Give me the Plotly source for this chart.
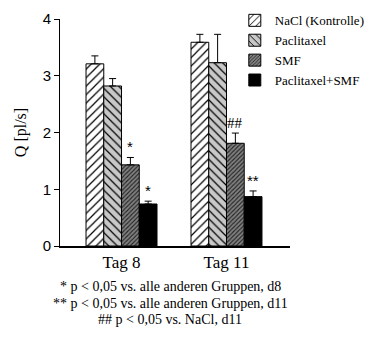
import plotly.graph_objects as go

categories = ["Tag 8", "Tag 11"]
series_names = ["NaCl (Kontrolle)", "Paclitaxel", "SMF", "Paclitaxel+SMF"]
means = {
    "NaCl (Kontrolle)": [3.21, 3.59],
    "Paclitaxel": [2.82, 3.23],
    "SMF": [1.43, 1.81],
    "Paclitaxel+SMF": [0.74, 0.87],
}
errors = {
    "NaCl (Kontrolle)": [0.14, 0.14],
    "Paclitaxel": [0.13, 0.50],
    "SMF": [0.13, 0.18],
    "Paclitaxel+SMF": [0.05, 0.10],
}
sig_marks = {
    "SMF": ["*", "##"],
    "Paclitaxel+SMF": ["*", "**"],
}
y_ticks = [0, 1, 2, 3, 4]
footnotes = [
    "* p &lt; 0,05 vs. alle anderen Gruppen, d8",
    "** p &lt; 0,05 vs. alle anderen Gruppen, d11",
    "## p &lt; 0,05 vs. NaCl, d11",
]

styles = {
    "NaCl (Kontrolle)": dict(shape="/", bgcolor="white", fgcolor="black", size=6, solidity=0.2),
    "Paclitaxel": dict(shape="\\", bgcolor="#c8c8c8", fgcolor="black", size=6, solidity=0.2),
    "SMF": dict(shape="/", bgcolor="#808080", fgcolor="#202020", size=3, solidity=0.35),
    "Paclitaxel+SMF": dict(shape="", bgcolor="black", fgcolor="black", size=6, solidity=0.2),
}

serif = "Liberation Serif"
sans = "Liberation Sans"

# layout constants
x_range = [-0.586, 1.605]
bargap = 0.324
plot_w = 230
bar_px = (1 - bargap) / len(series_names) * plot_w / (x_range[1] - x_range[0])

fig = go.Figure()
for k, name in enumerate(series_names):
    st = styles[name]
    marker = dict(color=st["bgcolor"], line=dict(color="black", width=1))
    if st["shape"]:
        marker["pattern"] = dict(shape=st["shape"], bgcolor=st["bgcolor"], fgcolor=st["fgcolor"],
                                 fgopacity=1, size=st["size"], solidity=st["solidity"])
    fig.add_trace(go.Bar(
        name=name, x=categories, y=means[name],
        marker=marker,
        error_y=dict(type="data", array=errors[name], arrayminus=[0, 0], symmetric=False,
                     color="black", thickness=1, width=3.5),
    ))
    marks = sig_marks.get(name)
    if marks:
        for cat, m, v, e in zip(categories, marks, means[name], errors[name]):
            fig.add_annotation(x=cat, y=v + e, xref="x", yref="y", text=m, showarrow=False,
                               xshift=(k - (len(series_names) - 1) / 2) * bar_px,
                               yanchor="bottom", yshift=0,
                               font=dict(family=sans if m.startswith("*") else serif,
                                         size=15, color="black"))

fig.update_layout(
    width=371, height=338,
    margin=dict(l=60, r=81, t=19, b=92, autoexpand=False),
    paper_bgcolor="white", plot_bgcolor="white",
    barmode="group", bargap=bargap, bargroupgap=0,
    showlegend=True,
    legend=dict(x=0.76, y=1.06, xanchor="left", yanchor="top",
                font=dict(family=serif, size=13, color="black"),
                bgcolor="rgba(0,0,0,0)", itemwidth=30, tracegroupgap=0),
    font=dict(family=serif, color="black"),
)
fig.update_xaxes(
    range=x_range, showline=True, linecolor="black", linewidth=1.5,
    ticks="", tickfont=dict(family=serif, size=17, color="black"), showgrid=False, zeroline=False,
)
fig.update_yaxes(
    range=[0, 4.0001], tickvals=y_ticks, showline=True, linecolor="black", linewidth=1,
    ticks="outside", ticklen=5, tickcolor="black", tickfont=dict(family=sans, size=15, color="black"),
    ticklabeloverflow="allow",
    showgrid=False, zeroline=False,
    title=dict(text="Q [pl/s]", font=dict(family=serif, size=16, color="black"), standoff=12),
)

for i, line in enumerate(footnotes):
    fig.add_annotation(text=line, xref="paper", yref="paper", x=0.48, y=-0.18 - i * 0.072,
                       showarrow=False, xanchor="center", yanchor="middle",
                       font=dict(family=serif, size=14, color="black"))

fig.write_html("out.html", config={"displayModeBar": False},
               post_script="document.body.style.margin='0';")
